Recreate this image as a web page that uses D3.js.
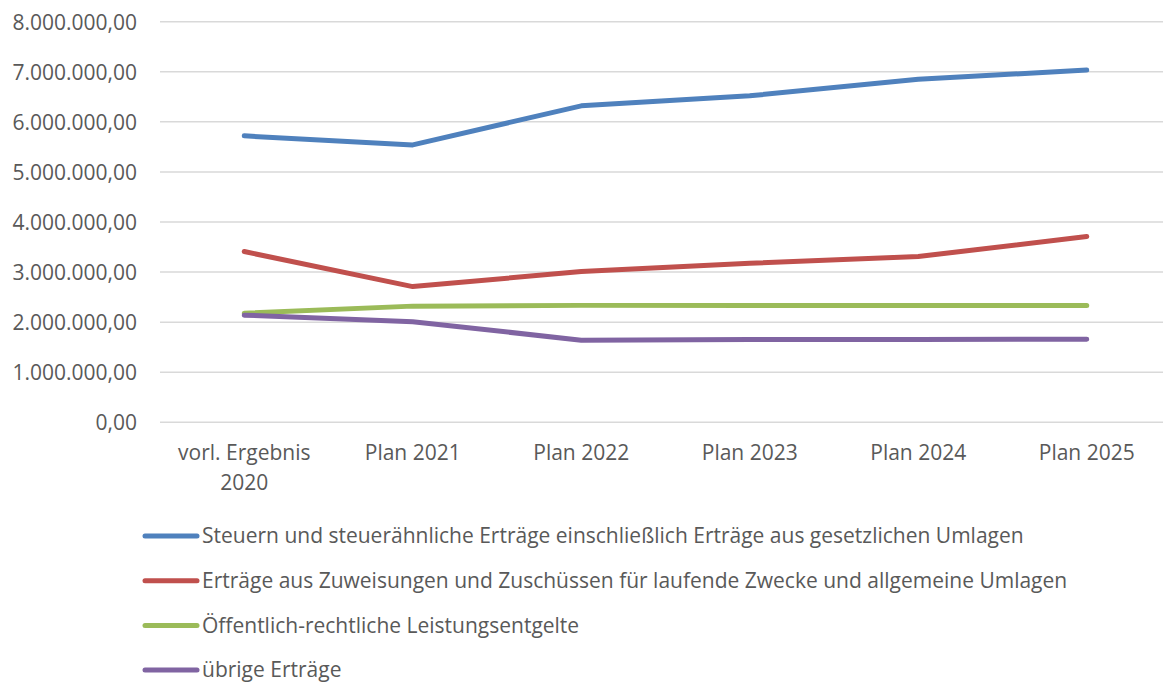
<!DOCTYPE html>
<html>
<head>
<meta charset="utf-8">
<script src="https://cdn.jsdelivr.net/npm/d3@7"></script>
<style>
  body { margin: 0; background: #fff; }
  svg { display: block; }
  text { font-family: "Open Sans", "Noto Sans", sans-serif; fill: #595959; }
</style>
</head>
<body>
<svg id="chart" width="1167" height="682"></svg>
<script>
// categories and values (EUR)
var categories = ["vorl. Ergebnis 2020", "Plan 2021", "Plan 2022", "Plan 2023", "Plan 2024", "Plan 2025"];
var catLines = [["vorl. Ergebnis", "2020"], ["Plan 2021"], ["Plan 2022"], ["Plan 2023"], ["Plan 2024"], ["Plan 2025"]];

var steuern    = [5720000, 5540000, 6320000, 6520000, 6850000, 7035000];
var zuweisung  = [3410000, 2710000, 3010000, 3175000, 3310000, 3710000];
var entgelte   = [2180000, 2320000, 2335000, 2335000, 2335000, 2335000];
var uebrige    = [2140000, 2010000, 1640000, 1655000, 1655000, 1660000];

var seriesNames = [
  "Steuern und steuerähnliche Erträge einschließlich Erträge aus gesetzlichen Umlagen",
  "Erträge aus Zuweisungen und Zuschüssen für laufende Zwecke und allgemeine Umlagen",
  "Öffentlich-rechtliche Leistungsentgelte",
  "übrige Erträge"
];
var seriesColors = ["#4F81BD", "#C0504D", "#9BBB59", "#8064A2"];
var yTicks = [0, 1000000, 2000000, 3000000, 4000000, 5000000, 6000000, 7000000, 8000000];

var allSeries = [steuern, zuweisung, entgelte, uebrige];

var svg = d3.select("#chart");

var x = d3.scaleBand()
  .domain(categories)
  .range([160, 1171]);

var y = d3.scaleLinear()
  .domain([0, 8000000])
  .range([422.3, 21.7]);

var fmt = d3.formatLocale({decimal: ",", thousands: ".", grouping: [3], currency: ["", "€"]}).format(",.2f");

// grid
svg.append("g").attr("class", "grid")
  .selectAll("line")
  .data(yTicks)
  .enter()
  .append("line")
  .attr("x1", 160)
  .attr("x2", 1163)
  .attr("y1", function(d){return y(d);})
  .attr("y2", function(d){return y(d);})
  .attr("stroke", "#D9D9D9")
  .attr("stroke-width", 1.5);

// y axis labels
var yAxis = d3.axisLeft(y)
  .tickValues(yTicks)
  .tickSize(0)
  .tickPadding(0)
  .tickFormat(fmt);

svg.append("g")
  .attr("transform", "translate(137,0)")
  .call(yAxis)
  .call(function(g){g.select(".domain").remove();})
  .selectAll("text")
  .attr("font-size", "21px")
  .attr("font-family", null)
  .attr("dy", "0.35em")
  .style("fill", "#595959");

// x axis labels
var xl = svg.append("g").selectAll("text")
  .data(categories)
  .enter()
  .append("text")
  .attr("text-anchor", "middle")
  .attr("font-size", "21px")
  .attr("x", function(d){return x(d) + x.bandwidth()/2;})
  .attr("y", 460);

xl.each(function(d, i){
  var t = d3.select(this);
  catLines[i].forEach(function(s, j){
    t.append("tspan")
      .attr("x", x(d) + x.bandwidth()/2)
      .attr("dy", j === 0 ? 0 : 30)
      .text(s);
  });
});

// lines
var line = d3.line()
  .x(function(d, i){return x(categories[i]) + x.bandwidth()/2;})
  .y(function(d){return y(d);});

svg.append("g").selectAll("path")
  .data(allSeries)
  .enter()
  .append("path")
  .attr("d", line)
  .attr("fill", "none")
  .attr("stroke", function(d, i){return seriesColors[i];})
  .attr("stroke-width", 5)
  .attr("stroke-linecap", "round")
  .attr("stroke-linejoin", "round");

// legend
var legend = svg.append("g").selectAll("g")
  .data(seriesNames)
  .enter()
  .append("g")
  .attr("transform", function(d, i){return "translate(0," + (536 + i*44.7) + ")";});

legend.append("line")
  .attr("x1", 145)
  .attr("x2", 197)
  .attr("stroke", function(d, i){return seriesColors[i];})
  .attr("stroke-width", 5)
  .attr("stroke-linecap", "round");

legend.append("text")
  .attr("x", 202)
  .attr("dy", "0.35em")
  .attr("font-size", "21px")
  .text(function(d){return d;});
</script>
</body>
</html>
